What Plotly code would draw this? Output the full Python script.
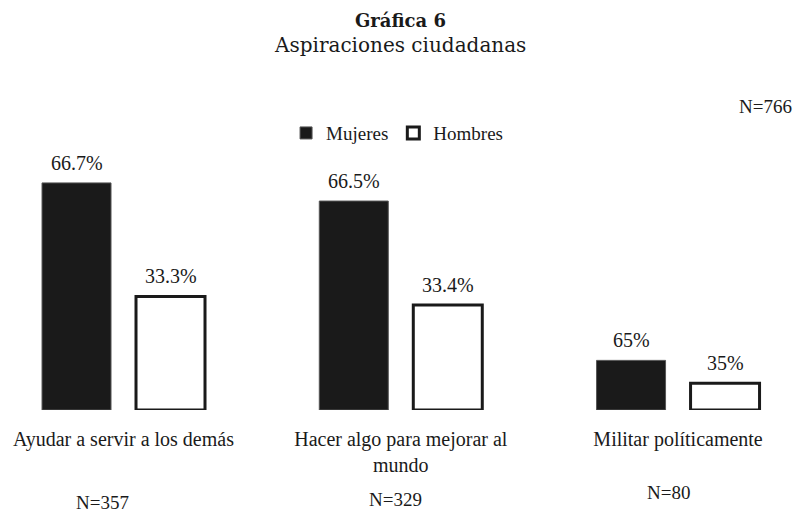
import plotly.graph_objects as go

# Aspiraciones ciudadanas por sexo
categorias = ["Ayudar a servir a los demás", "Hacer algo para mejorar al<br>mundo", "Militar políticamente"]
mujeres = [238, 219, 52]          # casos
hombres = [119, 110, 28]
mujeres_pct = ["66.7%", "66.5%", "65%"]
hombres_pct = ["33.3%", "33.4%", "35%"]
n_grupo = [357, 329, 80]
n_total = 766

FONT = "Liberation Serif, Times New Roman, serif"
TITLE_FONT = "DejaVu Serif, serif"

fig = go.Figure()

fig.add_trace(go.Bar(
    x=categorias, y=mujeres, name="Mujeres",
    marker=dict(color="#1a1a1a", line=dict(color="#555555", width=1)),
))
fig.add_trace(go.Bar(
    x=categorias, y=hombres, name="Hombres",
    marker=dict(color="white", line=dict(color="#1a1a1a", width=3)),
))

annotations = []
# porcentajes sobre las barras
for cat, v, t in zip(categorias, mujeres, mujeres_pct):
    annotations.append(dict(x=cat, y=v, text=t, xref="x", yref="y", xshift=-47, yshift=7,
                            yanchor="bottom", showarrow=False, font=dict(size=20)))
for cat, v, t in zip(categorias, hombres, hombres_pct):
    annotations.append(dict(x=cat, y=v, text=t, xref="x", yref="y", xshift=47, yshift=7,
                            yanchor="bottom", showarrow=False, font=dict(size=20)))

# N por grupo
n_y = [-0.356, -0.345, -0.318]
n_dx = [-21, -5, -10]
for cat, n, yy, dx in zip(categorias, n_grupo, n_y, n_dx):
    annotations.append(dict(x=cat, y=yy, text=f"N={n}", xref="x", yref="paper", xshift=dx,
                            yanchor="middle", showarrow=False, font=dict(size=19)))

annotations.append(dict(x=0.99, y=1.169, xref="paper", yref="paper", xanchor="right",
                        yanchor="middle", text=f"N={n_total}", showarrow=False,
                        font=dict(size=19)))

# titulo
annotations.append(dict(x=0.494, y=1.50, xref="paper", yref="paper", yanchor="middle",
                        text="<b>Gráfica 6</b>", showarrow=False,
                        font=dict(family=TITLE_FONT, size=18)))
annotations.append(dict(x=0.494, y=1.405, xref="paper", yref="paper", yanchor="middle",
                        text="Aspiraciones ciudadanas", showarrow=False,
                        font=dict(family=TITLE_FONT, size=20)))

fig.update_layout(
    width=794, height=505,
    margin=dict(l=0, r=0, t=142, b=103),
    paper_bgcolor="white", plot_bgcolor="white",
    font=dict(family=FONT, size=20, color="#1a1a1a"),
    barmode="group", bargap=0.322, bargroupgap=0.266,
    showlegend=True,
    legend=dict(orientation="h", x=0.49, xanchor="center", y=1.065, yanchor="middle",
                font=dict(size=19), itemwidth=30, tracegroupgap=0),
    xaxis=dict(range=[-0.4166, 2.447], showline=False, showgrid=False, ticks="",
               ticklabelstandoff=15, tickfont=dict(size=20)),
    yaxis=dict(range=[0, 272.5], visible=False),
    annotations=annotations,
)

fig.write_html("out.html")
